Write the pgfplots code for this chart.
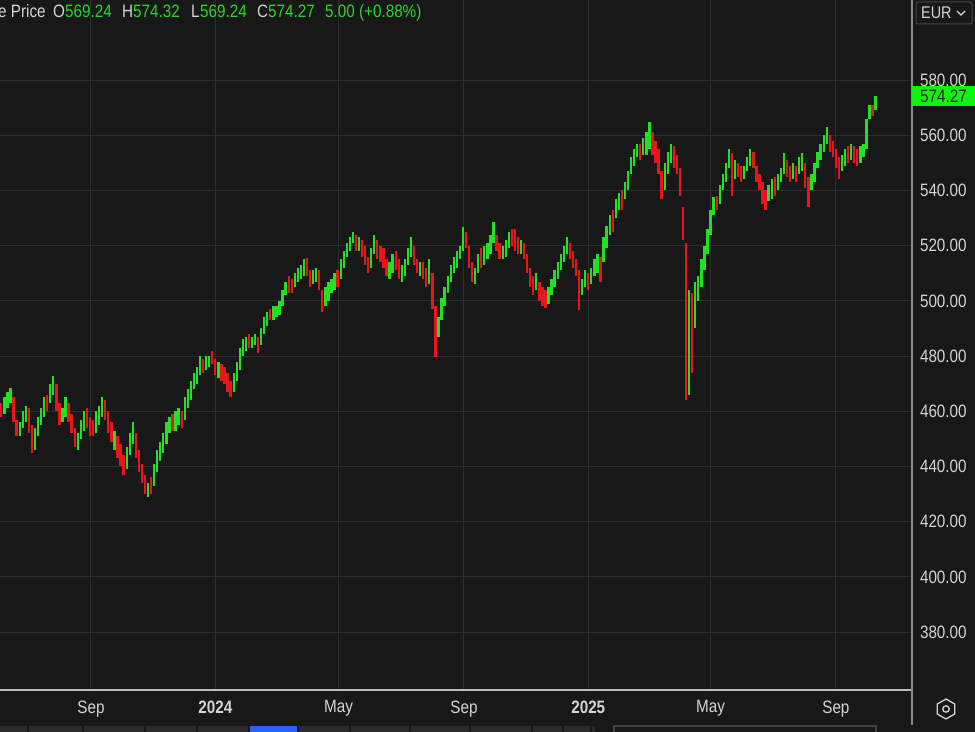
\documentclass[border=0pt]{standalone}
\usepackage{pgfplots}
\pgfplotsset{compat=1.18}
\usepackage{pgfplotstable}
\usepackage{fontspec}
\setmainfont{Liberation Sans}[FakeStretch=0.85]

\definecolor{bg}{HTML}{181818}
\definecolor{gridc}{HTML}{2D2D2D}
\definecolor{upc}{HTML}{22E022}
\definecolor{dnc}{HTML}{E8161B}
\definecolor{txt}{HTML}{D4D4D4}
\definecolor{hdrgreen}{HTML}{26D926}
\definecolor{lastc}{HTML}{0CF50C}
\definecolor{axc}{HTML}{BDBDBD}
\definecolor{vaxc}{HTML}{8A8A8A}
\definecolor{boxc}{HTML}{444444}
\definecolor{stripc}{HTML}{2A2A2A}
\definecolor{tabblue}{HTML}{2962FF}

% days counted from 1 Sep 2023; c = 1 for an up bar, 0 for a down bar
\pgfplotstableread{
d lo hi c
-88 458 463 0
-85 459 465 1
-82 461 467 1
-79 463 468.5 1
-76 456 465 0
-73 451 457 0
-70 451 456 1
-67 454 460 1
-64 456 462 1
-61 452 461 0
-58 445 455 0
-55 446 454 1
-52 451 458 1
-49 455 461 1
-46 458 465 1
-43 460 466 0
-40 463 470 1
-37 466 472.7 1
-34 460 470 0
-31 455 463 0
-28 456 461 1
-25 458 465 1
-22 456 463 0
-19 452 459 0
-16 447 454 0
-13 446 452 1
-10 450 457 1
-7 453 460 1
-4 454 461 0
-1 451 458 0
2 451 457 0
5 452 460 1
8 455 462 1
11 458 465 1
14 457 464 0
17 452 460 0
20 449 456 0
23 446 453 1
26 443 451 0
29 440 448 0
32 437 444 0
35 439 447 1
38 444 452 1
41 448 456 1
44 443 452 0
47 438 446 0
50 434 441 0
53 430 437 0
56 429 434 1
59 430 436 0
62 433 441 1
65 438 446 1
68 442 449 1
71 445 452 1
74 448 456 1
77 452 458 1
80 453 459 0
83 453 460 1
86 455 461 1
89 454 460 0
92 457 465 1
95 461 468 1
98 464 471 1
101 468 474 1
104 470 476 1
107 473 480 1
110 474 479 0
113 475 480 1
116 476 480 1
119 477 482 0
122 473 479 0
125 472 478 1
128 471 477 0
131 470 476 0
134 467 474 0
137 465 471 0
140 467 474 1
143 471 478 1
146 475 483 1
149 480 486 1
152 482 487 1
155 483 488 0
158 483 487 1
161 484 488 1
164 481 487 0
167 484 490 1
170 488 494 1
173 491 496 1
176 493 497 0
179 493 498 1
182 494 498 1
185 495 500 1
188 498 504 1
191 502 507 1
194 503 509 0
197 503 508 0
200 505 510 1
203 507 512 1
206 508 513 1
209 509 515 1
212 509 515.5 0
215 505 511 0
218 506 511 1
221 507 512 1
224 504 511 0
227 496 504 0
230 498 505 1
233 500 507 1
236 503 508 1
239 504 510 1
242 505 511 0
245 508 515 1
248 512 518 1
251 516 521 1
254 518 523 1
257 521 525 1
260 518 524 0
263 518 523 1
266 516 522 0
269 513 520 0
272 510 516 0
275 512 519 1
278 517 524 1
281 515 522 0
284 514 520 0
287 512 519 0
290 509 515 0
293 508 514 1
296 510 517 1
299 511 518 0
302 508 515 0
305 507 513 1
308 509 515 1
311 513 519 1
314 516 523 1
317 513 520 0
320 510 515 0
323 509 514 1
326 508 514 0
329 505 512 0
332 506 515 1
335 497 510 0
338 479.6 498 0
341 487 494 1
344 493 501 1
347 498 505 1
350 503 509 1
353 507 513 1
356 510 516 1
359 512 518 1
362 515 520 1
365 518 526.7 1
368 519 525 0
371 512 520 0
374 507 514 0
377 506 512 1
380 510 517 1
383 512 519 0
386 513 520 1
389 515 521 1
392 517 524 1
395 521 528.6 1
398 518 524 0
401 515 521 0
404 515 520 1
407 516 522 1
410 519 525 1
413 520 526 0
416 518 526 0
419 517 523 0
422 517 522 1
425 515 521 0
428 510 517 0
431 505 512 0
434 502 509 0
437 504 510 1
440 500 507 0
443 498 505 0
446 497.4 504 0
449 499 505 1
452 502 508 1
455 505 511 1
458 508 514 1
461 511 517 1
464 514 520 1
467 517 523 1
470 515 521 0
473 512 518 0
476 509 515 0
479 496.7 511 0
482 502 508 1
485 505 511 1
488 504 510 0
491 506 512 1
494 509 515 1
497 510 517 1
500 507 516 0
503 514 523 1
506 519 527 1
509 524 531 1
512 525 533 0
515 530 537 1
518 533 539 1
521 533 540 0
524 537 543 1
527 540 547 1
530 546 552 1
533 549 555 1
536 552 557 1
539 551 557 0
542 553 559 1
545 553 561 1
548 555 564.8 1
551 553 561 0
554 550 558 0
557 546 555 0
560 537 547 0
563 540 550 1
566 546 554 1
569 550 557 1
572 548 556 0
575 546 553 0
578 538 548 0
581 522 534 0
584 464 521 0
587 466 504 1
590 474 503 0
593 490 507 1
596 500 509 1
599 505 515 1
602 511 520 1
605 517 526 1
608 524 533 1
611 531 537.6 1
614 533 538 0
617 535 542 1
620 540 546 1
623 543 550 1
626 548 555 1
629 538 553.5 0
632 544 551 1
635 545 550 0
638 543 549 0
641 544 549 1
644 547 552 1
647 549 555 1
650 548 554 0
653 543 549 0
656 540 546 0
659 535 543 0
662 533 540 0
665 536 542 1
668 537 544 1
671 538 545 0
674 540 546 1
677 543 548 1
680 546 553.5 1
683 545 551 0
686 543 549 0
689 544 550 1
692 543 549 0
695 546 552 1
698 547 553.5 1
701 541 550 0
704 534 545 0
707 540 546 1
710 543 550 1
713 548 554 1
716 551 557 1
719 554 560 1
722 557 563 1
725 554 560 0
728 552 558 0
731 548 555 0
734 544 552 0
737 547 553 1
740 549 555 1
743 550 556 0
746 551 557 1
749 550 556 0
752 549 555 0
755 550 556 1
758 552 557 1
761 555 566 1
764 566 571 1
767 567 571 0
770 569.24 574.32 1
}\bars

\begin{document}
\begin{tikzpicture}[x=1bp, y=1bp]
\useasboundingbox (0,0) rectangle (975,732);
\fill[bg] (0,0) rectangle (975,732);

\begin{axis}[
    at={(0bp,42bp)}, anchor=south west,
    scale only axis, width=912bp, height=690bp,
    xmin=-89.3, xmax=805.7,
    ymin=359, ymax=609,
    axis line style={draw=none},
    tick style={draw=none},
    grid=major,
    major grid style={gridc, line width=1bp},
    xtick={0,122,243,366,488,608,731},
    xticklabels={Sep,\textbf{2024},May,Sep,\textbf{2025},May,Sep},
    ytick={380,400,...,580},
    yticklabel pos=right,
    ticklabel style={txt, font=\fontsize{18}{18}\selectfont},
    x tick label style={anchor=north, yshift=-7bp},
    y tick label style={anchor=west, xshift=4.5bp,
        /pgf/number format/.cd, fixed, fixed zerofill, precision=2,
        assume math mode=true},
]
\addplot[quiver={u=0, v=\thisrow{hi}-\thisrow{lo}}, -, color=dnc,
    line width=2.3bp, restrict expr to domain={\thisrow{c}}{-0.5:0.5}]
    table[x=d, y=lo] {\bars};
\addplot[quiver={u=0, v=\thisrow{hi}-\thisrow{lo}}, -, color=upc,
    line width=2.3bp, restrict expr to domain={\thisrow{c}}{0.5:1.5}]
    table[x=d, y=lo] {\bars};
\end{axis}

% axis frame
\draw[axc, line width=1.6bp] (0,42) -- (912,42);
\draw[vaxc, line width=1.2bp] (912,7) -- (912,732);

% last price tag
\fill[lastc] (912,626) rectangle (975,646);
\node[text=black!85, font=\fontsize{18}{18}\selectfont, inner sep=0pt] at (943.5,636) {574.27};

% header
\begin{scope}[every node/.style={anchor=base west, inner sep=0pt, font=\fontsize{18}{18}\selectfont}]
\node[text=txt] at (-2,714) {e Price};
\node[text=txt] at (53,714) {O};
\node[text=hdrgreen] at (65,714) {569.24};
\node[text=txt] at (122,714) {H};
\node[text=hdrgreen] at (133,714) {574.32};
\node[text=txt] at (191,714) {L};
\node[text=hdrgreen] at (200,714) {569.24};
\node[text=txt] at (257,714) {C};
\node[text=hdrgreen] at (268,714) {574.27};
\node[text=hdrgreen] at (325,714) {5.00 (+0.88\%)};
\end{scope}

% currency selector
\draw[boxc, line width=1bp, rounded corners=2bp] (916,708) rectangle (972,730);
\node[text=txt, anchor=base west, inner sep=0pt, font=\fontsize{17}{17}\selectfont] at (921,713) {EUR};
\draw[txt, line width=1.2bp] (957,721) -- (961,717) -- (965,721);

% settings icon
\draw[txt, line width=1.3bp] (946,33) -- (954.7,28) -- (954.7,18) -- (946,13) -- (937.3,18) -- (937.3,28) -- cycle;
\draw[txt, line width=1.3bp] (946,23) circle (3.2);

% tab strip at the bottom
\fill[stripc] (0,0) rectangle (595,6);
\foreach \s in {28,83,145,197,249,298,350,410,470,532,563,591}
    \draw[bg, line width=1.5bp] (\s,0) -- (\s,6);
\fill[tabblue] (250,0) rectangle (297,6);
\draw[boxc, line width=1.2bp] (614,0) -- (614,6) -- (876,6) -- (876,0);
\end{tikzpicture}
\end{document}
